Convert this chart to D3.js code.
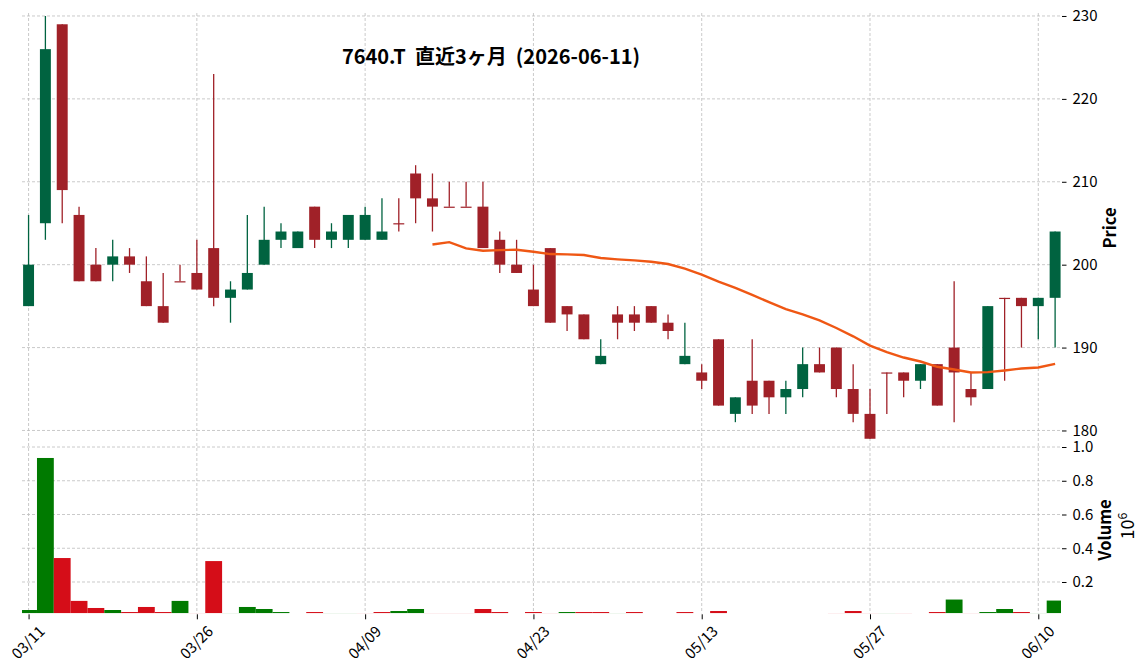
<!DOCTYPE html>
<html>
<head>
<meta charset="utf-8">
<script src="https://cdn.jsdelivr.net/npm/d3@7"></script>
<style>
  body { margin: 0; background: #fff; }
  text { font-family: "Noto Sans CJK JP", "Noto Sans", sans-serif; }
  .grid line { stroke: #bdbdbd; stroke-width: 0.8; stroke-dasharray: 3,2; }
  .ax path { display: none; }
  .ax line { stroke: #000; }
  .ax text { font-size: 15px; fill: #000; }
</style>
</head>
<body>
<div id="chart"></div>
<script>
// trading days (index positions on x)
let dates = ["03-11","03-12","03-13","03-16","03-17","03-18","03-19","03-23","03-24","03-25",
             "03-26","03-27","03-30","03-31","04-01","04-02","04-03","04-06","04-07","04-08",
             "04-09","04-10","04-13","04-14","04-15","04-16","04-17","04-20","04-21","04-22",
             "04-23","04-24","04-27","04-28","04-30","05-01","05-07","05-08","05-11","05-12",
             "05-13","05-14","05-15","05-18","05-19","05-20","05-21","05-22","05-25","05-26",
             "05-27","05-28","05-29","06-01","06-02","06-03","06-04","06-05","06-08","06-09",
             "06-10","06-11"];

let opens  = [195,205,229,206,200,200,201,198,195,198,199,202,196,197,200,203,202,207,203,203,
              203,203,205,211,208,207,207,207,203,200,197,202,195,194,188,194,194,195,193,188,
              187,191,182,186,186,184,185,188,190,185,182,187,187,186,188,190,185,185,196,196,
              195,196];
let highs  = [206,230,229,207,202,203,202,201,199,200,203,223,198,206,207,205,204,207,205,206,
              207,208,208,212,211,210,210,210,204,203,200,202,195,194,191,195,195,195,194,193,
              188,191,184,191,186,186,190,190,190,188,185,187,187,188,188,198,187,195,196,196,
              196,204];
let lows   = [195,203,205,198,198,198,199,195,193,198,197,195,193,197,200,202,202,202,202,202,
              203,203,204,205,204,207,207,202,199,199,195,193,192,191,188,191,192,193,191,188,
              185,183,181,182,182,182,184,187,184,181,179,182,184,185,183,181,183,185,186,190,
              191,190];
let closes = [200,226,209,198,198,201,200,195,193,198,197,196,197,199,203,204,204,203,204,206,
              206,204,205,208,207,207,207,202,200,199,195,193,194,191,189,193,193,193,192,189,
              186,183,184,183,184,185,188,187,185,182,179,187,186,188,183,187,184,195,196,195,
              196,204];

// volume in millions of shares
let volumes = [0.034,0.935,0.342,0.088,0.046,0.034,0.022,0.052,0.022,0.088,
               0.016,0.324,0.016,0.052,0.040,0.022,0.004,0.022,0.016,0.016,
               0.016,0.022,0.028,0.040,0.016,0.016,0.016,0.040,0.022,0.004,
               0.022,0.016,0.022,0.022,0.022,0.016,0.022,0.004,0.004,0.022,
               0.004,0.028,0.004,0.004,0.004,0.004,0.004,0.004,0.016,0.028,
               0.016,0.016,0.016,0.004,0.022,0.096,0.016,0.022,0.040,0.022,
               0.016,0.090];

// 25 day moving average, starts at index 24
let maStart = 24;
let ma25 = [202.44,202.72,201.96,201.68,201.76,201.80,201.56,201.28,201.24,201.16,
            200.80,200.64,200.52,200.36,200.08,199.52,198.80,197.96,197.20,196.36,
            195.48,194.64,194.00,193.28,192.36,191.36,190.24,189.44,188.80,188.32,
            187.68,187.36,187.00,187.04,187.24,187.48,187.60,188.04];

let xTickLabels = ["03/11","03/26","04/09","04/23","05/13","05/27","06/10"];
let xTickDates  = ["03-11","03-26","04-09","04-23","05-13","05-27","06-10"];
let priceTicks  = [180,190,200,210,220,230];
let volumeTicks = [0.2,0.4,0.6,0.8,1.0];

let titleText = "7640.T  直近3ヶ月  (2026-06-11)";

let W = 1148, H = 671;
let left = 22, right = 1061;
let pTop = 13, pBottom = 441, vBottom = 613.3;

let svg = d3.select("#chart").append("svg")
    .attr("width", W).attr("height", H)
    .style("background-color", "white");

let x = d3.scaleLinear().domain([-0.39, 61.35]).range([left, right]);
let yP = d3.scaleLinear().domain([178.73, 230.36]).range([pBottom, pTop]);
let yV = d3.scaleLinear().domain([0.0145, 1.0356]).range([vBottom, pBottom]);
let step = x(1) - x(0);

let upC = "#006340", downC = "#a02128";
let vUp = "#007a00", vDown = "#d50d18";

svg.append("defs").append("clipPath").attr("id", "clipV")
    .append("rect").attr("x", left).attr("y", pBottom).attr("width", right - left).attr("height", vBottom - pBottom);
svg.select("defs").append("clipPath").attr("id", "clipP")
    .append("rect").attr("x", left).attr("y", pTop).attr("width", right - left).attr("height", pBottom - pTop);

let tickIdx = xTickDates.map(d => dates.indexOf(d));

// grid
let grid = svg.append("g").attr("class", "grid");
grid.selectAll(".vg").data(tickIdx).enter().append("line")
    .attr("x1", d => x(d)).attr("x2", d => x(d))
    .attr("y1", pTop).attr("y2", vBottom);
grid.selectAll(".pg").data(priceTicks).enter().append("line")
    .attr("x1", left).attr("x2", right)
    .attr("y1", d => yP(d)).attr("y2", d => yP(d));
grid.selectAll(".vgh").data(volumeTicks).enter().append("line")
    .attr("x1", left).attr("x2", right)
    .attr("y1", d => yV(d)).attr("y2", d => yV(d));

// volume bars
let vg = svg.append("g").attr("clip-path", "url(#clipV)");
vg.selectAll("rect").data(volumes).enter().append("rect")
    .attr("x", (d, i) => x(i) - step / 2)
    .attr("width", step)
    .attr("y", d => yV(Math.max(d, 0.0145)))
    .attr("height", d => vBottom - yV(Math.max(d, 0.0145)))
    .attr("fill", (d, i) => {
        let up = i == 0 ? closes[i] > opens[i] : closes[i] > closes[i - 1];
        return up ? vUp : vDown;
    });

// candles
let cg = svg.append("g").attr("clip-path", "url(#clipP)");
let bw = step * 0.65;
cg.selectAll(".wick").data(opens).enter().append("line")
    .attr("x1", (d, i) => x(i)).attr("x2", (d, i) => x(i))
    .attr("y1", (d, i) => yP(highs[i])).attr("y2", (d, i) => yP(lows[i]))
    .attr("stroke", (d, i) => closes[i] > opens[i] ? upC : downC)
    .attr("stroke-width", 1.3);
cg.selectAll(".body").data(opens).enter().append("rect")
    .attr("x", (d, i) => x(i) - bw / 2)
    .attr("width", bw)
    .attr("y", (d, i) => yP(Math.max(opens[i], closes[i])))
    .attr("height", (d, i) => Math.max(1.2, Math.abs(yP(opens[i]) - yP(closes[i]))))
    .attr("fill", (d, i) => closes[i] > opens[i] ? upC : downC);

// moving average
let line = d3.line().x((d, i) => x(i + maStart)).y(d => yP(d));
cg.append("path").datum(ma25)
    .attr("d", line)
    .attr("fill", "none")
    .attr("stroke", "#ef5714")
    .attr("stroke-width", 2.4);

// right axes
svg.append("g").attr("class", "ax")
    .attr("transform", "translate(" + (right + 1) + ",0)")
    .call(d3.axisRight(yP).tickValues(priceTicks).tickSize(4.5).tickPadding(6));
svg.append("g").attr("class", "ax")
    .attr("transform", "translate(" + (right + 1) + ",0)")
    .call(d3.axisRight(yV).tickValues(volumeTicks).tickSize(4.5).tickPadding(6).tickFormat(d3.format(".1f")));

// x axis
let xa = svg.append("g").attr("class", "ax")
    .attr("transform", "translate(0," + (vBottom + 1) + ")")
    .call(d3.axisBottom(x).tickValues(tickIdx).tickSize(5).tickFormat((d, i) => xTickLabels[i]));
xa.selectAll("text")
    .attr("text-anchor", "middle")
    .attr("dy", 0).attr("y", 0)
    .attr("transform", d => "translate(0,29) rotate(-45)")
    .attr("dominant-baseline", "middle");

// labels
svg.append("text")
    .attr("transform", "translate(1116,228) rotate(-90)")
    .attr("text-anchor", "middle")
    .style("font-size", "16.5px").style("font-weight", "bold")
    .text("Price");
svg.append("text")
    .attr("transform", "translate(1111,530) rotate(-90)")
    .attr("text-anchor", "middle")
    .style("font-size", "16.5px").style("font-weight", "bold")
    .text("Volume");
let tt = svg.append("text")
    .attr("transform", "translate(1134,526) rotate(-90)")
    .attr("text-anchor", "middle")
    .style("font-size", "18px");
tt.append("tspan").text("10");
tt.append("tspan").attr("dy", -7).style("font-size", "12.5px").text("6");

// title
svg.append("text")
    .attr("x", 491).attr("y", 64)
    .attr("text-anchor", "middle")
    .style("font-size", "20px").style("font-weight", "bold")
    .style("white-space", "pre")
    .attr("xml:space", "preserve")
    .text(titleText);
</script>
</body>
</html>
